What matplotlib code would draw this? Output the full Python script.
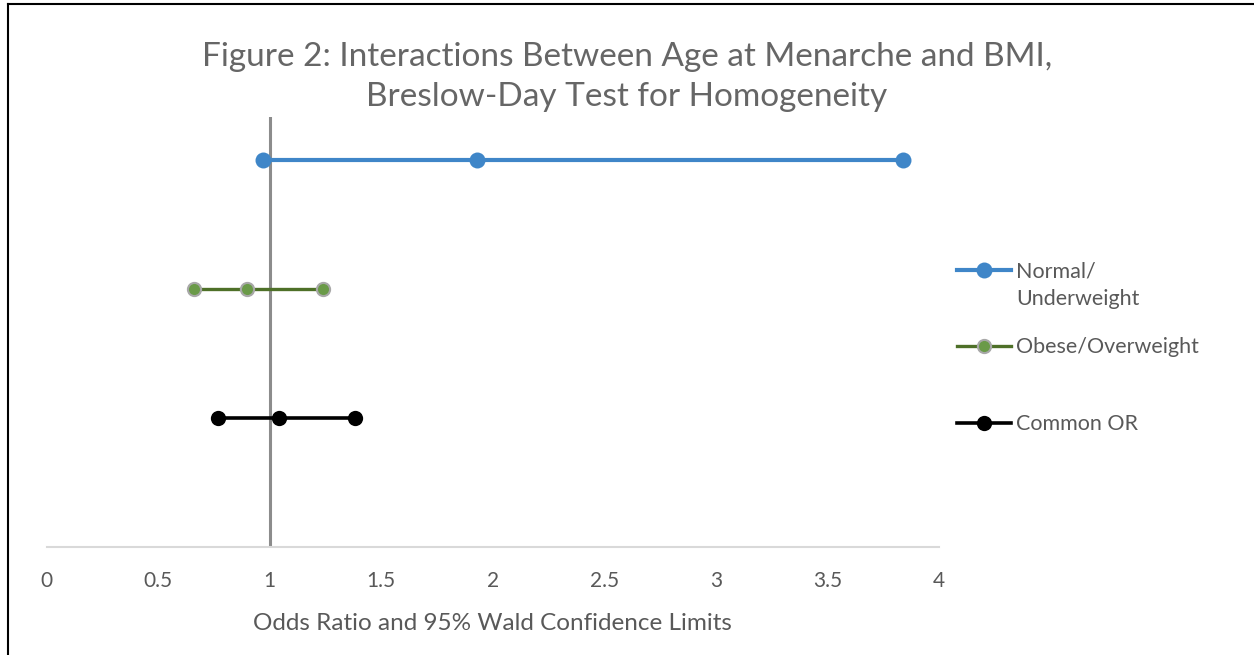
import matplotlib.pyplot as plt
from matplotlib.lines import Line2D

plt.rcParams['font.family'] = ['Lato', 'DejaVu Sans']

# Odds ratios with 95% Wald limits (lower, OR, upper) and row positions
groups = ["Normal/\nUnderweight", "Obese/Overweight", "Common OR"]
lower = [0.97, 0.66, 0.77]
odds = [1.93, 0.90, 1.04]
upper = [3.84, 1.24, 1.38]
rows = [3, 2, 1]
x_ticks = [0, 0.5, 1, 1.5, 2, 2.5, 3, 3.5, 4]

line_colors = ['#3F86C8', '#4E7028', '#000000']
face_colors = ['#3F86C8', '#6A9A48', '#000000']
edge_colors = ['#3F86C8', '#A8A8A8', '#000000']
line_widths = [3.0, 2.4, 2.6]
marker_sizes = [11.5, 9.5, 11]
edge_widths = [0, 1.5, 0]

text_col = '#595959'

fig = plt.figure(figsize=(12.54, 6.55), dpi=100)
ax = fig.add_axes([46.7 / 1254, 1 - 547 / 655, (939 - 46.7) / 1254, (547 - 117) / 655])

ax.axvline(1, color='#8C8C8C', lw=2.2, zorder=1)

for i in range(len(groups)):
    ax.plot([lower[i], odds[i], upper[i]], [rows[i]] * 3,
            color=line_colors[i], lw=line_widths[i],
            marker='o', ms=marker_sizes[i],
            markerfacecolor=face_colors[i], markeredgecolor=edge_colors[i],
            markeredgewidth=edge_widths[i], zorder=3, clip_on=False)

ax.set_xlim(0, 4)
ax.set_ylim(0, 430 / 129)
ax.set_xticks(x_ticks)
ax.set_xticklabels([f"{t:g}" for t in x_ticks])
ax.set_yticks([])
ax.tick_params(axis='x', length=0, pad=17, labelsize=15, labelcolor=text_col)
for side in ['top', 'right', 'left']:
    ax.spines[side].set_visible(False)
ax.spines['bottom'].set_color('#D9D9D9')
ax.spines['bottom'].set_linewidth(1.5)
ax.set_xlabel("Odds Ratio and 95% Wald Confidence Limits",
              fontsize=17.5, color=text_col, labelpad=16)

fig.text(0.5, 1 - 77 / 655,
         "Figure 2: Interactions Between Age at Menarche and BMI,\nBreslow-Day Test for Homogeneity",
         ha='center', va='center', fontsize=24, color='#666666', linespacing=1.4)

# legend, handle aligned with first text line as in the original
leg_y = [270, 346, 423]
for i in range(len(groups)):
    y = 1 - leg_y[i] / 655
    fig.add_artist(Line2D([957 / 1254, 1011 / 1254], [y, y],
                          color=line_colors[i], lw=line_widths[i]))
    fig.add_artist(Line2D([984 / 1254], [y], marker='o', ms=marker_sizes[i],
                          markerfacecolor=face_colors[i],
                          markeredgecolor=edge_colors[i],
                          markeredgewidth=edge_widths[i]))
    fig.text(1016 / 1254, y + 9 / 655, groups[i], ha='left', va='top',
             fontsize=15.5, color=text_col, linespacing=1.5)

# chart border
fig.add_artist(Line2D([8 / 1254, 8 / 1254], [0, 1 - 4 / 655], color='black', lw=1.5))
fig.add_artist(Line2D([8 / 1254, 1], [1 - 4 / 655, 1 - 4 / 655], color='black', lw=1.5))

fig.savefig('out.png', dpi=100)
